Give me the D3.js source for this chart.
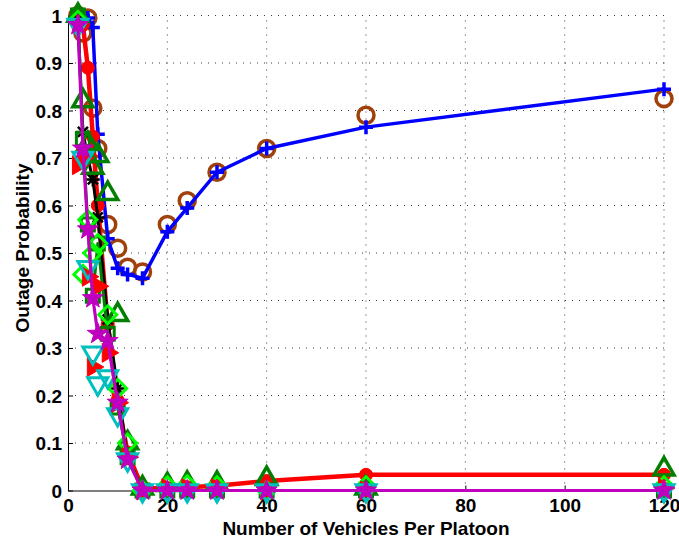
<!DOCTYPE html>
<html>
<head>
<meta charset="utf-8">
<script src="https://cdn.jsdelivr.net/npm/d3@7"></script>
<style>
  html, body { margin: 0; padding: 0; background: #fff; }
  svg text { font-family: "Liberation Sans", Arial, sans-serif; font-weight: bold; }
</style>
</head>
<body>
<svg id="chart" width="679" height="540"></svg>
<script>
// Platoon sizes (divisors of 120)
const platoonSizes = [2, 3, 4, 5, 6, 8, 10, 12, 15, 20, 24, 30, 40, 60, 120];

// Outage probability per series
const simBrown   = [1.0, 0.963, 0.995, 0.805, 0.72, 0.56, 0.51, 0.47, 0.46, 0.56, 0.61, 0.67, 0.72, 0.79, 0.825];
const anaBlue    = [1.0, 1.0, 0.995, 0.975, 0.75, 0.53, 0.468, 0.455, 0.447, 0.545, 0.595, 0.67, 0.72, 0.765, 0.845];
const anaRed     = [1.0, 0.98, 0.89, 0.745, 0.60, 0.35, 0.19, 0.08, 0.005, 0.005, 0.007, 0.01, 0.02, 0.033, 0.033];
const anaBlack   = [0.99, 0.755, 0.70, 0.655, 0.575, 0.36, 0.215, 0.07, 0, 0, 0, 0, 0, 0, 0];
const anaGreen   = [1.0, 0.74, 0.56, 0.41, 0.52, 0.33, 0.175, 0.07, 0, 0, 0, 0, 0, 0, 0];
const simGreen   = [1.0, 0.82, 0.73, 0.68, 0.705, 0.625, 0.37, 0.10, 0.005, 0.012, 0.015, 0.015, 0.025, 0.005, 0.045];
const simLime    = [0.99, 0.455, 0.57, 0.50, 0.52, 0.37, 0.215, 0.10, 0.0, 0.01, 0.012, 0.01, 0.0, 0.01, 0.01];
const simRed     = [0.685, 0.70, 0.45, 0.26, 0.43, 0.29, 0.185, 0.07, 0.0, 0.005, 0.005, 0.005, 0.0, 0.0, 0.005];
const simCyan    = [0.98, 0.70, 0.47, 0.29, 0.225, 0.24, 0.16, 0.065, 0, 0, 0, 0, 0, 0, 0];
const anaPurple  = [0.98, 0.72, 0.55, 0.405, 0.33, 0.315, 0.185, 0.065, 0, 0, 0, 0, 0, 0, 0];

const xTicks = [0, 20, 40, 60, 80, 100, 120];
const yTicks = [0, 0.1, 0.2, 0.3, 0.4, 0.5, 0.6, 0.7, 0.8, 0.9, 1];
const yTickLabels = ["0", "0.1", "0.2", "0.3", "0.4", "0.5", "0.6", "0.7", "0.8", "0.9", "1"];

const xTitle = "Number of Vehicles Per Platoon";
const yTitle = "Outage Probability";

// ---- marker shapes (paths centred on 0,0) ----
const shapes = {
  circle: s => `M${s},0A${s},${s} 0 1,1 ${-s},0A${s},${s} 0 1,1 ${s},0Z`,
  plus: s => `M${-s},0H${s}M0,${-s}V${s}`,
  asterisk: s => {
    const a = s * 0.72;
    return `M${-s},0H${s}M0,${-s}V${s}M${-a},${-a}L${a},${a}M${-a},${a}L${a},${-a}`;
  },
  triUp: s => `M0,${-1.155 * s}L${s},${0.577 * s}L${-s},${0.577 * s}Z`,
  triDown: s => `M0,${1.155 * s}L${s},${-0.577 * s}L${-s},${-0.577 * s}Z`,
  triRight: s => `M${1.155 * s},0L${-0.577 * s},${s}L${-0.577 * s},${-s}Z`,
  diamond: s => `M0,${-s}L${s},0L0,${s}L${-s},0Z`,
  square: s => `M${-s},${-s}H${s}V${s}H${-s}Z`,
  star: s => {
    const pts = [];
    for (let i = 0; i < 10; i++) {
      const r = i % 2 === 0 ? s : s * 0.4;
      const a = -Math.PI / 2 + i * Math.PI / 5;
      pts.push([r * Math.cos(a), r * Math.sin(a)]);
    }
    return "M" + pts.map(p => p[0].toFixed(2) + "," + p[1].toFixed(2)).join("L") + "Z";
  }
};

// ---- series drawing order and styles ----
const series = [
  { values: simBrown,  color: "#a0400a", line: false, shape: "circle",   size: 8,   fill: false, mw: 3.5 },
  { values: anaBlue,   color: "#0000ff", line: true,  lw: 3.5, shape: "plus", size: 7, fill: false, mw: 3.5 },
  { values: anaRed,    color: "#ff0000", line: true,  lw: 4.5, shape: "circle", size: 6.5, fill: true, mw: 1 },
  { values: anaBlack,  color: "#000000", line: true,  lw: 3,   shape: "asterisk", size: 7, fill: false, mw: 2.5 },
  { values: anaGreen,  color: "#007f00", line: true,  lw: 3,   shape: "square", size: 6.5, fill: false, mw: 3 },
  { values: simGreen,  color: "#007f00", line: false, shape: "triUp",    size: 10,  fill: false, mw: 3.5 },
  { values: simLime,   color: "#00ff00", line: false, shape: "diamond",  size: 9,   fill: false, mw: 3 },
  { values: simRed,    color: "#ff0000", line: false, shape: "triRight", size: 9.5, fill: true,  mw: 1 },
  { values: simCyan,   color: "#00bfbf", line: false, shape: "triDown",  size: 10,  fill: false, mw: 3 },
  { values: anaPurple, color: "#bf00bf", line: true,  lw: 3.2, shape: "star", size: 11, fill: true, mw: 1 }
];

// ---- layout ----
const svg = d3.select("#chart");
const plotL = 68, plotR = 664, plotT = 15.5, plotB = 490.5;

const x = d3.scaleLinear().domain([0, 120]).range([plotL, plotR]);
const y = d3.scaleLinear().domain([0, 1]).range([plotB, plotT]);

// grid
const grid = svg.append("g").attr("class", "grid");
grid.selectAll("line.hg").data(yTicks.slice(1)).join("line")
  .attr("x1", plotL).attr("x2", plotR)
  .attr("y1", d => y(d)).attr("y2", d => y(d))
  .attr("stroke", "#3a3a3a").attr("stroke-width", 1).attr("stroke-dasharray", "1,6");
grid.selectAll("line.vg").data(xTicks.slice(1)).join("line")
  .attr("x1", d => x(d)).attr("x2", d => x(d))
  .attr("y1", plotB).attr("y2", plotT)
  .attr("stroke", "#3a3a3a").attr("stroke-width", 1).attr("stroke-dasharray", "1,6");

// axes
const xAxis = d3.axisBottom(x).tickValues(xTicks).tickFormat(d3.format("d"))
  .tickSizeInner(-5).tickSizeOuter(0).tickPadding(8);
const yAxis = d3.axisLeft(y).tickValues(yTicks).tickFormat((d, i) => yTickLabels[i])
  .tickSizeInner(-5).tickSizeOuter(0).tickPadding(6);

const gx = svg.append("g").attr("transform", `translate(0,${plotB})`).call(xAxis);
const gy = svg.append("g").attr("transform", `translate(${plotL},0)`).call(yAxis);
[gx, gy].forEach(g => {
  g.selectAll("path.domain").attr("stroke", "#000").attr("stroke-width", 1);
  g.selectAll(".tick line").attr("stroke", "#000");
  g.selectAll(".tick text").attr("fill", "#000").style("font-size", "19px");
});
gy.selectAll(".tick text").attr("dy", "0.36em");

// titles
svg.append("text")
  .attr("x", (plotL + plotR) / 2).attr("y", 535)
  .attr("text-anchor", "middle").style("font-size", "19px").attr("fill", "#000")
  .text(xTitle);
svg.append("text")
  .attr("transform", `translate(29,${(plotT + plotB) / 2 - 5}) rotate(-90)`)
  .attr("text-anchor", "middle").style("font-size", "19px").attr("fill", "#000")
  .text(yTitle);

// data
const lineGen = d3.line()
  .x(d => x(d[0])).y(d => y(d[1]));

const plot = svg.append("g").attr("class", "plot");
series.forEach(s => {
  const pts = platoonSizes.map((n, i) => [n, s.values[i]]).filter(d => d[1] != null);
  const g = plot.append("g");
  if (s.line) {
    g.append("path").datum(pts)
      .attr("d", lineGen)
      .attr("fill", "none").attr("stroke", s.color)
      .attr("stroke-width", s.lw).attr("stroke-linejoin", "round");
  }
  g.selectAll("path.mk").data(pts).join("path")
    .attr("class", "mk")
    .attr("transform", d => `translate(${x(d[0])},${y(d[1])})`)
    .attr("d", shapes[s.shape](s.size))
    .attr("fill", s.fill ? s.color : "none")
    .attr("stroke", s.color)
    .attr("stroke-width", s.mw)
    .attr("stroke-linejoin", "miter");
});
</script>
</body>
</html>
